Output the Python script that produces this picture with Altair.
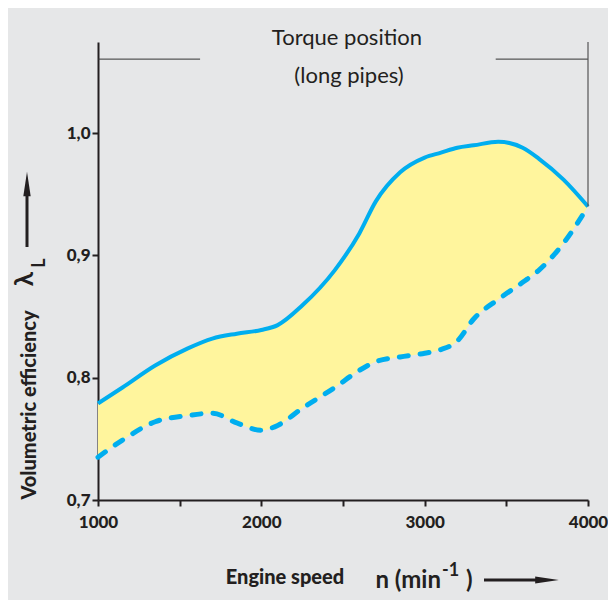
import altair as alt
import pandas as pd

# Engine speed grid (min^-1) and volumetric efficiency bounds
speed = [1000, 1150, 1350, 1550, 1700, 1850, 2000, 2100, 2250, 2450, 2600,
         2700, 2850, 3000, 3100, 3200, 3300, 3450, 3600, 3700, 3850, 4000]
upper = [0.779, 0.792, 0.810, 0.824, 0.832, 0.836, 0.839, 0.843, 0.859, 0.888, 0.918,
         0.944, 0.968, 0.980, 0.984, 0.988, 0.990, 0.993, 0.988, 0.979, 0.962, 0.940]
lower = [0.735, 0.749, 0.764, 0.769, 0.771, 0.763, 0.757, 0.761, 0.775, 0.792, 0.806,
         0.813, 0.817, 0.820, 0.823, 0.830, 0.848, 0.864, 0.878, 0.888, 0.910, 0.940]

x_ticks = [1000, 1500, 2000, 2500, 3000, 3500, 4000]
y_ticks = [0.7, 0.8, 0.9, 1.0]
y_top = 1.0745

bracket_left = [1000, 1625]
bracket_right = [3435, 4000]
bracket_y = 1.0605
annot_lines = ["Torque position", "(long pipes)"]
annot_x = [2524, 2537]
annot_y = [1.0719, 1.0409]

BG = "#e6e7e8"
FILL = "#fff59d"
BLUE = "#00aeef"
INK = "#231f20"
FONT = "Lato"

df = pd.DataFrame({"speed": speed, "upper": upper, "lower": lower})

xs = alt.Scale(domain=[1000, 4000], nice=False, zero=False)
ys = alt.Scale(domain=[0.7, y_top], nice=False, zero=False)

xaxis = alt.Axis(values=x_ticks, title=None, grid=False,
                 labelExpr="datum.value % 1000 == 0 ? format(datum.value, 'd') : ''",
                 domainColor=INK, domainWidth=2, tickColor=INK, tickWidth=2, tickSize=6,
                 labelFont=FONT, labelFontWeight=900, labelFontSize=17, labelColor=INK,
                 labelPadding=8, labelFlush=False, labelOverlap=False)
yaxis = alt.Axis(values=y_ticks, title=None, grid=False,
                 labelExpr="replace(format(datum.value, '.1f'), '.', ',')",
                 domainColor=INK, domainWidth=2, tickColor=INK, tickWidth=2, tickSize=6,
                 labelFont=FONT, labelFontWeight=900, labelFontSize=17, labelColor=INK,
                 labelPadding=2, labelFlush=False, labelOverlap=False)

X = alt.X("speed:Q", scale=xs, axis=xaxis)
Y_up = alt.Y("upper:Q", scale=ys, axis=yaxis)

base = alt.Chart(df)
area = base.mark_area(color=FILL, interpolate="monotone").encode(x=X, y=Y_up, y2="lower:Q")
line_up = base.mark_line(color=BLUE, strokeWidth=4, interpolate="monotone").encode(x=X, y=Y_up)
line_lo = base.mark_line(color=BLUE, strokeWidth=5, strokeDash=[9, 12], strokeCap="round",
                         interpolate="monotone").encode(x=X, y=alt.Y("lower:Q", scale=ys, axis=yaxis))

br_df = pd.DataFrame({"x1": [bracket_left[0], bracket_right[0]],
                      "x2": [bracket_left[1], bracket_right[1]],
                      "y": [bracket_y, bracket_y]})
brackets = alt.Chart(br_df).mark_rule(color="#333333", strokeWidth=1).encode(
    x=alt.X("x1:Q", scale=xs, axis=xaxis), x2="x2:Q", y=alt.Y("y:Q", scale=ys, axis=yaxis))
vert_df = pd.DataFrame({"x": [bracket_right[1]], "y1": [upper[-1]], "y2": [y_top]})
vert = alt.Chart(vert_df).mark_rule(color="#555555", strokeWidth=1.2).encode(
    x=alt.X("x:Q", scale=xs, axis=xaxis), y=alt.Y("y1:Q", scale=ys, axis=yaxis), y2="y2:Q")

an_df = pd.DataFrame({"t": annot_lines, "x": annot_x, "y": annot_y})
annot = alt.Chart(an_df).mark_text(font=FONT, fontSize=22, fontWeight="normal", color=INK,
                                   align="center", baseline="alphabetic").encode(
    x=alt.X("x:Q", scale=xs, axis=xaxis), y=alt.Y("y:Q", scale=ys, axis=yaxis), text="t:N")

one = alt.Data(values=[{"a": 1}])

def label(text, x, y, size, weight="bold", angle=0, align="center", baseline="alphabetic"):
    kw = dict(text=text, font=FONT, fontSize=size, fontWeight=weight, color=INK,
              align=align, baseline=baseline)
    if angle:
        kw["angle"] = angle
    return alt.Chart(one).mark_text(**kw).encode(x=alt.value(x), y=alt.value(y))

ytitle = label("Volumetric efficiency", -68, 363, 20, weight=900, angle=270, baseline="middle")
lam = label("λ", -73, 237, 26, angle=270, baseline="middle")
lamL = label("L", -58, 221, 18, angle=270, baseline="middle")

xtitle = label("Engine speed", 187, 542, 20, weight=900)
n_min = label("n (min", 343, 546, 24, align="right")
sup = label("-1", 344, 534, 18, align="left")
paren = label(")", 368, 546, 24, align="left")

yarrow = alt.Chart(one).mark_rule(color=INK, strokeWidth=3).encode(
    x=alt.value(-71), y=alt.value(150), y2=alt.value(205))
yhead = alt.Chart(one).mark_point(shape="M0,-1L0.3,1L-0.3,1Z", filled=True, fill=INK,
                                  stroke=None, opacity=1, size=600).encode(
    x=alt.value(-71), y=alt.value(142))
xarrow = alt.Chart(one).mark_rule(color=INK, strokeWidth=3).encode(
    x=alt.value(386), x2=alt.value(440), y=alt.value(538))
xhead = alt.Chart(one).mark_point(shape="M1,0L-1,-0.3L-1,0.3Z", filled=True, fill=INK,
                                  stroke=None, opacity=1, size=560).encode(
    x=alt.value(449), y=alt.value(538))

chart = alt.layer(area, line_up, line_lo, brackets, vert, annot,
                  ytitle, lam, lamL, xtitle, n_min, sup, paren,
                  yarrow, yhead, xarrow, xhead).properties(
    width=490, height=458,
    padding={"left": 90, "top": 34, "right": 20, "bottom": 100},
    autosize="none", background=BG,
).configure_view(stroke=None)

chart.save("out.html", embed_options={"renderer": "svg", "actions": False})
